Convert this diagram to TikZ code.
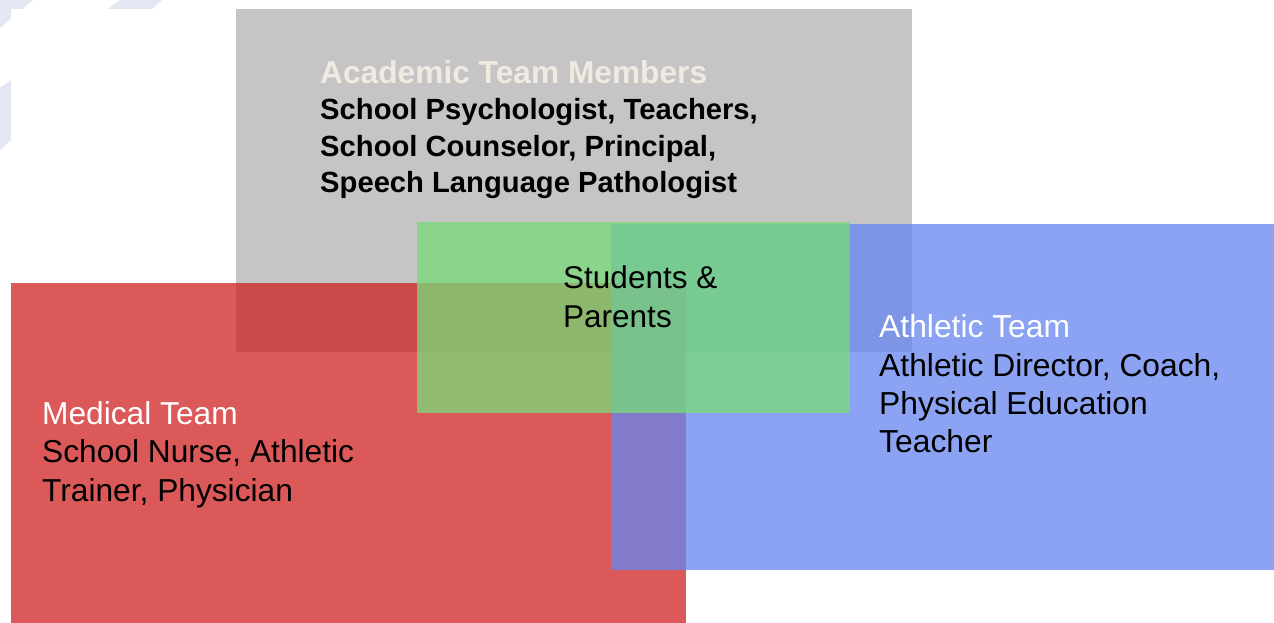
\documentclass[tikz,border=0pt]{standalone}
\usepackage{fontspec}
\setmainfont{Liberation Sans}
\definecolor{stripe}{RGB}{227,230,243}
\definecolor{academicgray}{RGB}{198,196,197}
\definecolor{medicalred}{RGB}{208,34,34}
\definecolor{athleticblue}{RGB}{103,135,239}
\definecolor{coregreen}{RGB}{119,220,120}
\definecolor{cream}{RGB}{238,236,225}
\begin{document}
\begin{tikzpicture}[x=1pt,y=-1pt,
  % multi-line nodes: the base anchor sits on the last line's baseline
  teamtext/.style={anchor=base west, inner sep=0pt, align=left, text=black,
    font=\fontsize{31.7}{38.5}\selectfont},
  boldtext/.style={teamtext, font=\bfseries\fontsize{29.2}{36.5}\selectfont},
  panel/.style={draw=none},
]
\useasboundingbox (0,0) rectangle (1274,623);
% faint diagonal bands of the slide background
\fill[stripe] (0,0) -- (33,0) -- (0,28) -- cycle;
\fill[stripe] (120,0) -- (162,0) -- (0,150) -- (0,88) -- cycle;
\fill[white] (11,9) rectangle (1274,623);
% overlapping team panels
\fill[panel, academicgray] (236,9) rectangle (912,352);
\fill[panel, medicalred, fill opacity=0.75] (11,283) rectangle (686,623);
\fill[panel, athleticblue, fill opacity=0.76] (611,224) rectangle (1274,570);
\fill[panel, coregreen, fill opacity=0.75] (417,222) rectangle (850,413);
% team descriptions
\node[boldtext] (academic) at (320,192.8)
  {{\color{cream}\fontsize{31.7}{36.5}\selectfont Academic Team Members}\\
   School Psychologist, Teachers,\\
   School Counselor, Principal,\\
   Speech Language Pathologist};
\node[teamtext] (medical) at (42,501)
  {{\color{white}Medical Team}\\
   School Nurse, Athletic\\
   Trainer, Physician};
\node[teamtext, font=\fontsize{31.5}{39.3}\selectfont] (core) at (563,327.5)
  {Students \&\\Parents};
\node[teamtext, font=\fontsize{31.8}{38.3}\selectfont] (athletic) at (879,452.6)
  {{\color{white}Athletic Team}\\
   Athletic Director, Coach,\\
   Physical Education\\
   Teacher};
\end{tikzpicture}
\end{document}
